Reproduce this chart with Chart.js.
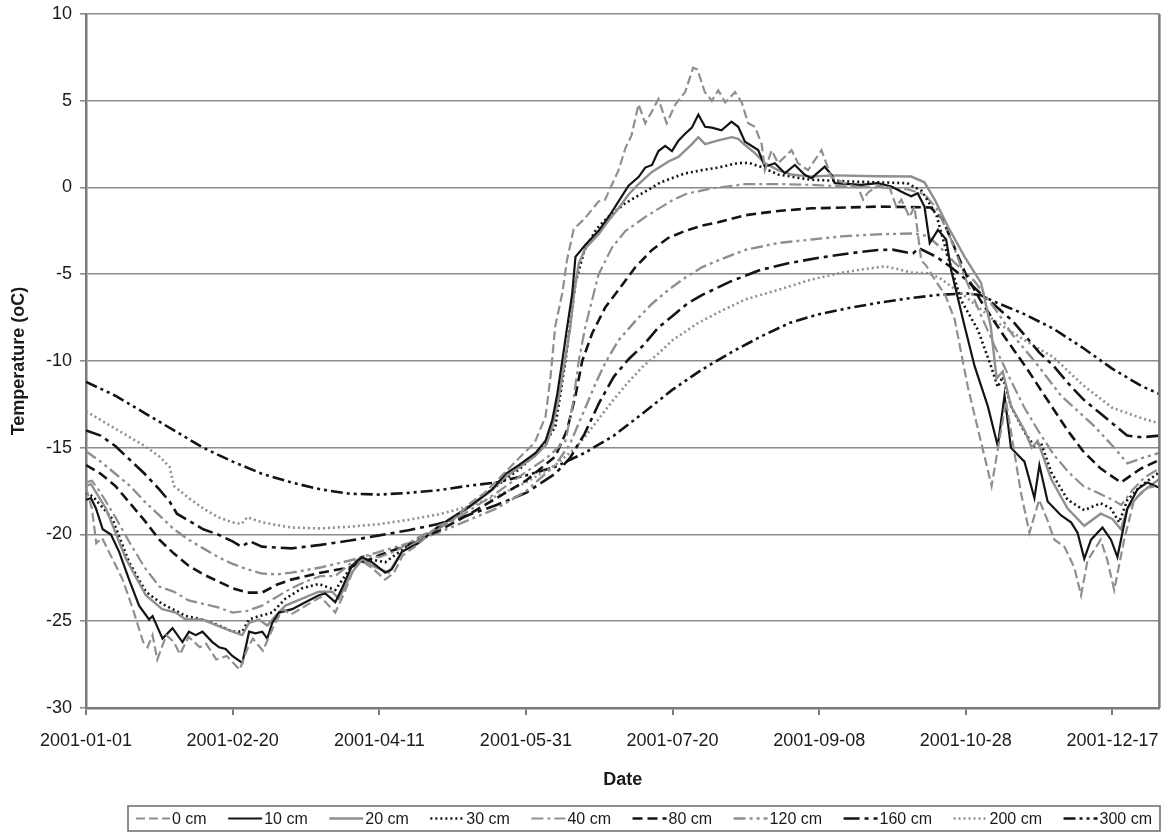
<!DOCTYPE html>
<html lang="en">
<head>
<meta charset="UTF-8">
<title>Soil temperature 2001</title>
<script src="https://cdn.jsdelivr.net/npm/chart.js"></script>
<style>
  body { margin: 0; background: #fff; }
  .wrap { width: 1174px; height: 833px; }
</style>
</head>
<body>
<div class="wrap"><canvas id="grafico"></canvas></div>
<script>
// x = day of year (0 = 2001-01-01), y = temperature (oC)
const tickDays = [0, 50, 100, 150, 200, 250, 300, 350];
const tickLabels = ['2001-01-01', '2001-02-20', '2001-04-11', '2001-05-31', '2001-07-20', '2001-09-08', '2001-10-28', '2001-12-17'];
const depths = ['0 cm', '10 cm', '20 cm', '30 cm', '40 cm', '80 cm', '120 cm', '160 cm', '200 cm', '300 cm'];

const t0 = [[0,-17.3],[2,-18.5],[3.5,-20.5],[5.5,-20.2],[9,-21.4],[12.5,-22.6],[16,-24.3],[19.5,-26.2],[21,-26.5],[22.7,-25.8],[24.3,-27.2],[27.4,-25.8],[30,-26.2],[32,-26.9],[35,-25.9],[38.8,-26.5],[41,-26.3],[44.4,-27.2],[48,-27.0],[52.4,-27.8],[55,-26.6],[56.9,-26.0],[60.3,-26.7],[63.7,-25.4],[67,-24.3],[70,-24.6],[75,-24.1],[80,-23.6],[85,-24.5],[88,-23.4],[91,-22.1],[94,-21.5],[98,-22.0],[102,-22.6],[105,-22.2],[108,-21.2],[113,-20.6],[120,-19.5],[125,-19.2],[131,-18.2],[136,-17.6],[143,-16.4],[150,-15.2],[153,-14.7],[156.7,-13.2],[158.4,-10.9],[160,-8.0],[162.4,-6.1],[164,-4.2],[166.3,-2.4],[170,-1.8],[174.8,-0.8],[177,-0.7],[181.6,1.0],[184,2.3],[186,3.0],[188.4,4.8],[190.7,3.7],[193,4.4],[195.2,5.1],[198,3.7],[201,4.8],[204.3,5.5],[207,6.9],[208.5,6.8],[211,5.5],[213.4,5.0],[215.6,5.6],[218,4.9],[221.3,5.5],[223.6,4.9],[225.8,3.7],[228.1,3.5],[230.4,2.5],[231.5,1.0],[233.8,2.15],[236,1.4],[240.6,2.15],[242.8,1.4],[246.2,1.0],[250.8,2.15],[254.2,0.6],[258.7,0.25],[263.2,0.0],[265,-0.7],[266.6,-0.3],[270,0.1],[274,0.0],[276.3,-1.1],[278,-0.7],[280.8,-1.7],[282.5,-1.1],[284.8,-4.2],[286.5,-4.5],[289.4,-5.3],[293,-6.2],[296.2,-7.6],[300.7,-11.5],[304.1,-13.9],[308.8,-17.2],[313.7,-12.3],[318.8,-17.6],[321.7,-19.9],[325,-18.0],[327.9,-19.2],[330.2,-20.3],[333.6,-20.7],[337,-21.9],[339.3,-23.5],[341.5,-21.5],[346,-20.3],[348.3,-21.5],[350.6,-23.2],[354,-20.3],[357.4,-18.0],[362,-17.3],[366,-17.2]];

const t10 = [[0,-18.0],[1.7,-17.9],[3.4,-18.5],[5.7,-19.7],[8.5,-20.0],[11.3,-21.0],[14.7,-22.6],[18.1,-24.1],[21.5,-24.9],[22.7,-24.7],[26.1,-26.0],[29.5,-25.4],[32.9,-26.2],[35.1,-25.6],[37.4,-25.8],[39.7,-25.6],[43.1,-26.2],[45.4,-26.5],[47.6,-26.6],[49.9,-27.0],[53.3,-27.4],[55.6,-25.6],[57.8,-25.7],[60.1,-25.6],[61.8,-26.0],[63.5,-25.1],[65.8,-24.5],[70.3,-24.3],[74.8,-23.9],[79.4,-23.5],[81.6,-23.4],[85,-23.9],[87.3,-23.1],[90.7,-21.8],[94.1,-21.3],[97.5,-21.6],[102,-22.2],[104.3,-22.0],[107.7,-21.0],[113.4,-20.5],[120.4,-19.5],[130.6,-18.4],[138.5,-17.4],[143.1,-16.5],[147.6,-16.0],[153.3,-15.3],[156.7,-14.6],[159,-13.4],[160.7,-11.9],[162.4,-10.0],[164.1,-8.0],[165.8,-6.1],[166.9,-4.0],[170.3,-3.3],[174.8,-2.5],[178.2,-1.7],[181.6,-0.8],[185,0.1],[188.4,0.6],[190.7,1.15],[193,1.3],[195.2,2.1],[197.5,2.4],[199.8,2.1],[202,2.7],[204.3,3.1],[206.6,3.45],[208.8,4.2],[211.1,3.5],[213.4,3.45],[216.7,3.3],[220.1,3.8],[222.4,3.5],[224.7,2.64],[229.2,2.16],[231.5,1.2],[234.9,1.4],[238.3,0.82],[241.7,1.3],[245.1,0.73],[247.4,0.54],[251.9,1.2],[254.2,0.73],[255.3,0.25],[264.4,0.15],[270,0.25],[274.6,0.06],[279.1,-0.33],[281.4,-0.5],[283.6,-0.33],[285.9,-1.1],[287.7,-3.2],[290.5,-2.44],[293.3,-3.0],[295,-4.75],[299.6,-8.0],[303,-10.3],[307.5,-12.6],[310.9,-14.9],[313.2,-12.0],[315.4,-15.0],[317.1,-15.3],[320,-15.8],[323.4,-17.9],[325.1,-16.0],[327.9,-18.1],[332.5,-18.9],[335.9,-19.3],[338.1,-19.9],[340.4,-21.4],[342.7,-20.3],[346.6,-19.6],[349.5,-20.3],[351.7,-21.3],[355.1,-18.5],[358.5,-17.4],[361.9,-17.0],[366,-17.3]];

const t20 = [[0,-17.2],[1.7,-17.1],[6.8,-18.5],[13.6,-21.4],[20.4,-23.5],[26,-24.3],[30.6,-24.5],[34,-24.9],[39.7,-24.9],[45.4,-25.3],[50,-25.6],[53.3,-25.8],[55.6,-25.1],[59,-24.9],[61.8,-25.25],[64.6,-24.7],[68,-24.1],[73.7,-23.7],[79.4,-23.3],[83.9,-23.3],[86.2,-23.7],[90.7,-22.2],[94.1,-21.4],[97.5,-21.8],[103.2,-22.2],[107.7,-21.0],[115.6,-20.1],[120,-19.6],[130,-18.5],[138,-17.5],[143,-16.7],[148,-16.1],[153,-15.5],[157,-14.8],[159,-13.8],[161,-12.3],[163,-10.3],[165,-8.2],[166.5,-6.0],[168,-4.4],[170.3,-3.5],[174.8,-2.7],[178.2,-1.9],[181.6,-1.2],[185,-0.4],[188.4,0.2],[193,0.9],[198.6,1.5],[202,1.76],[206.6,2.5],[208.8,2.9],[211.1,2.5],[215.6,2.72],[220.2,2.9],[222.4,2.8],[224.7,2.45],[228,2.0],[231.5,1.4],[236,1.0],[240.5,0.75],[247.4,0.63],[255.3,0.7],[270,0.65],[281.4,0.63],[285.9,0.3],[289.4,-0.7],[293.9,-2.25],[299.6,-4.0],[305.2,-5.5],[308.5,-8.0],[310.5,-11.0],[312.6,-10.6],[315.4,-12.6],[320,-14.0],[322.5,-15.0],[324.5,-14.6],[329.1,-16.8],[334.7,-18.5],[340.4,-19.5],[346,-18.8],[350,-19.1],[352.9,-19.7],[355.1,-18.5],[359.7,-17.6],[366,-16.8]];

const t30 = [[0,-17.6],[2.3,-17.8],[9,-19.1],[14.7,-21.6],[20.4,-23.3],[26,-24.0],[29.5,-24.3],[34,-24.7],[39.7,-24.9],[45.4,-25.25],[50,-25.6],[53.3,-25.6],[55.6,-24.9],[59,-24.7],[63.5,-24.5],[68,-23.7],[73.7,-23.1],[79.4,-22.85],[85,-23.2],[90.7,-21.8],[96,-21.4],[102,-21.6],[107.7,-20.9],[115.6,-20.1],[120,-19.6],[130,-18.5],[140,-17.2],[148,-16.2],[155,-15.1],[160,-13.8],[163.5,-10.0],[166.9,-5.5],[170,-3.6],[174,-2.4],[178,-1.7],[184,-0.9],[190,-0.3],[196,0.3],[204,0.8],[210,1.0],[215.6,1.15],[222,1.4],[226,1.42],[230,1.2],[236,0.75],[247,0.45],[260,0.35],[280,0.25],[285,-0.2],[290,-1.6],[293.9,-4.0],[298.4,-6.5],[304.1,-8.2],[308.6,-10.3],[310.9,-11.5],[312.6,-10.9],[315.4,-12.6],[320,-14.1],[323.4,-14.9],[325.6,-14.7],[329.1,-16.4],[334.7,-18.0],[340.4,-18.6],[343.8,-18.35],[346,-18.2],[349.5,-18.5],[352.3,-19.3],[355.1,-18.0],[359.7,-17.2],[366,-16.4]];

const t40 = [[0,-17.0],[2,-16.9],[5,-17.6],[10,-19.0],[15,-20.5],[20,-21.9],[25,-23.0],[30,-23.3],[35,-23.8],[40,-24.0],[45,-24.2],[50,-24.5],[55,-24.4],[60,-24.1],[65,-23.6],[70,-23.1],[75,-22.7],[80,-22.4],[85,-22.4],[90,-21.7],[95,-21.2],[100,-21.3],[105,-21.0],[110,-20.5],[115,-20.0],[120,-19.7],[130,-18.7],[140,-17.6],[150,-16.4],[157,-15.6],[163.5,-14.6],[166,-12.5],[168,-10.0],[170.3,-8.0],[174.8,-5.0],[179.4,-3.45],[184,-2.5],[190.7,-1.7],[199.8,-0.75],[205,-0.35],[213.4,-0.05],[224.7,0.19],[236,0.2],[247.4,0.15],[258.7,0.06],[270,0.0],[280,-0.1],[286,-0.4],[290,-1.2],[295,-3.0],[300,-5.3],[305,-7.3],[310,-9.2],[315,-11.0],[320,-12.7],[325,-14.1],[330,-15.4],[335,-16.4],[340,-17.2],[345,-17.6],[350,-18.0],[353,-18.3],[357,-17.4],[361,-16.7],[366,-16.2]];

const t80 = [[0,-16.0],[5,-16.5],[10,-17.2],[15,-18.2],[20,-19.2],[25,-20.3],[30,-21.1],[35,-21.8],[40,-22.3],[45,-22.7],[50,-23.1],[55,-23.35],[60,-23.35],[65,-22.9],[70,-22.6],[80,-22.2],[90,-21.9],[100,-21.2],[110,-20.6],[120,-19.8],[130,-18.9],[140,-17.9],[150,-16.9],[160,-15.5],[164,-14.0],[166.9,-12.0],[169.2,-10.0],[172.6,-8.4],[177.1,-6.9],[181.6,-5.9],[187.3,-4.6],[193,-3.6],[198.6,-2.9],[204.3,-2.5],[210,-2.2],[215.6,-2.0],[224.7,-1.6],[236,-1.35],[247.4,-1.2],[260,-1.15],[270,-1.1],[288,-1.15],[292,-1.8],[296,-3.4],[300,-5.0],[305,-6.5],[310,-7.8],[313.2,-8.6],[321.1,-10.5],[325.7,-11.7],[334.7,-14.0],[340,-15.2],[346,-16.2],[352.9,-17.0],[359.7,-16.2],[366,-15.7]];

const t120 = [[0,-15.2],[5,-15.8],[10,-16.5],[15,-17.2],[20,-18.1],[25,-18.9],[30,-19.7],[35,-20.3],[40,-20.8],[45,-21.3],[50,-21.7],[55,-22.0],[60,-22.25],[65,-22.3],[70,-22.2],[80,-21.9],[90,-21.5],[100,-21.0],[110,-20.5],[120,-19.9],[130,-19.2],[140,-18.5],[150,-17.5],[160,-16.0],[165,-14.8],[170,-12.8],[174,-11.2],[177.1,-10.1],[181.6,-8.8],[187.3,-7.7],[193,-6.7],[198.6,-5.9],[204.3,-5.2],[210,-4.6],[215.6,-4.2],[224.7,-3.6],[236,-3.2],[247.4,-3.0],[258.7,-2.8],[270,-2.7],[282,-2.65],[287,-2.8],[291,-3.4],[296,-4.3],[303,-5.4],[310,-7.0],[316,-8.5],[323.4,-10.0],[332.5,-12.0],[343.8,-13.75],[350.6,-15.0],[355.1,-15.9],[360,-15.6],[366,-15.3]];

const t160 = [[0,-14.0],[5,-14.3],[10,-14.9],[15,-15.7],[20,-16.5],[25,-17.4],[28.5,-18.1],[31,-18.8],[35,-19.2],[40,-19.7],[45,-20.0],[50,-20.4],[53,-20.7],[56,-20.4],[60,-20.7],[70,-20.8],[80,-20.6],[90,-20.35],[100,-20.05],[110,-19.75],[120,-19.4],[130,-18.9],[140,-18.3],[150,-17.6],[160,-16.5],[165,-15.6],[170,-14.2],[175,-12.4],[180,-10.9],[185,-9.9],[190,-9.1],[195,-8.1],[200,-7.4],[205,-6.7],[210,-6.2],[215,-5.8],[220,-5.4],[230,-4.75],[240,-4.35],[250,-4.05],[260,-3.8],[270,-3.6],[275,-3.58],[280,-3.75],[282,-3.8],[284,-3.5],[290,-4.0],[295,-4.6],[300,-5.3],[305,-6.1],[310,-6.8],[316,-7.7],[320,-8.5],[325,-9.5],[330,-10.3],[335,-11.3],[340,-12.2],[345,-12.9],[350,-13.6],[355,-14.3],[360,-14.4],[366,-14.3]];

const t200 = [[0,-12.9],[5,-13.4],[10,-13.9],[15,-14.4],[20,-14.9],[25,-15.5],[28.5,-16.1],[30,-17.2],[35,-17.9],[40,-18.5],[45,-19.0],[50,-19.3],[53,-19.4],[55,-19.0],[60,-19.3],[70,-19.6],[80,-19.65],[90,-19.55],[100,-19.4],[110,-19.15],[120,-18.85],[130,-18.4],[140,-17.8],[150,-17.0],[160,-16.0],[167,-15.0],[170,-14.4],[175,-13.3],[180,-12.2],[185,-11.2],[190,-10.3],[195,-9.6],[200,-8.8],[208.8,-7.8],[215.6,-7.2],[224.7,-6.46],[236,-5.9],[247.4,-5.3],[258,-4.9],[264.4,-4.73],[272.3,-4.54],[276.8,-4.7],[281.4,-4.9],[287,-4.94],[291,-5.2],[295,-5.7],[300,-6.3],[305,-7.0],[310,-7.7],[320,-8.8],[330,-9.8],[340,-11.4],[350,-12.7],[360,-13.3],[366,-13.6]];

const t300 = [[0,-11.2],[10,-12.0],[20,-13.0],[30,-14.0],[40,-15.0],[50,-15.8],[60,-16.5],[70,-17.0],[80,-17.4],[90,-17.65],[100,-17.7],[110,-17.6],[120,-17.45],[130,-17.2],[140,-17.0],[150,-16.6],[160,-16.1],[170,-15.3],[180,-14.3],[190,-13.0],[200,-11.65],[210,-10.5],[220,-9.5],[230,-8.6],[240,-7.8],[250,-7.3],[260,-6.95],[270,-6.65],[280,-6.4],[290,-6.2],[300,-6.1],[305,-6.2],[310,-6.6],[320,-7.3],[330,-8.15],[340,-9.25],[350,-10.45],[360,-11.45],[366,-11.9]];

const seriesData = [t0, t10, t20, t30, t40, t80, t120, t160, t200, t300];

const GREY = '#8f8f8f';
const BLACK = '#141414';
const styles = [
  { color: GREY,  dash: [9, 4],               width: 2.2 },
  { color: BLACK, dash: [],                   width: 2.2 },
  { color: GREY,  dash: [],                   width: 2.4 },
  { color: BLACK, dash: [2, 3],               width: 2.6 },
  { color: GREY,  dash: [12, 4, 3, 4],        width: 2.2 },
  { color: BLACK, dash: [10, 5],              width: 2.6 },
  { color: GREY,  dash: [12, 4, 3, 4, 3, 4],  width: 2.4 },
  { color: BLACK, dash: [16, 5, 4, 5],        width: 2.6 },
  { color: GREY,  dash: [2, 3],               width: 2.6 },
  { color: BLACK, dash: [12, 4, 3, 4, 3, 4],  width: 2.6 }
];

Chart.defaults.font.family = "'Liberation Sans', Arial, sans-serif";
Chart.defaults.color = '#1a1a1a';

// right edge of the plot frame + legend box drawn from the dataset styles
const frameAndLegend = {
  id: 'frameAndLegend',
  afterDraw(chart) {
    const c = chart.ctx;
    const a = chart.chartArea;
    c.save();
    c.strokeStyle = '#7a7a7a';
    c.lineWidth = 2.5;
    c.beginPath();
    c.moveTo(a.right, a.top);
    c.lineTo(a.right, a.bottom);
    c.stroke();

    const box = { left: 128, top: 806, right: 1160, bottom: 831 };
    c.lineWidth = 1.5;
    c.strokeStyle = '#6a6a6a';
    c.strokeRect(box.left, box.top, box.right - box.left, box.bottom - box.top);

    c.font = "16px 'Liberation Sans', Arial, sans-serif";
    c.textBaseline = 'middle';
    c.fillStyle = '#1a1a1a';
    const sample = 34, inner = 2, pad = 8;
    const ds = chart.data.datasets;
    const widths = ds.map(d => c.measureText(d.label).width);
    const used = widths.reduce((s, w) => s + w + sample + inner, 0);
    const gap = (box.right - box.left - 2 * pad - used) / (ds.length - 1);
    const y = (box.top + box.bottom) / 2;
    let x = box.left + pad;
    ds.forEach((d, i) => {
      c.strokeStyle = d.borderColor;
      c.lineWidth = d.borderWidth;
      c.setLineDash(d.borderDash);
      c.beginPath();
      c.moveTo(x, y);
      c.lineTo(x + sample, y);
      c.stroke();
      c.setLineDash([]);
      x += sample + inner;
      c.fillText(d.label, x, y + 1);
      x += widths[i] + gap;
    });
    c.restore();
  }
};

const ctx = document.getElementById('grafico');

new Chart(ctx, {
  type: 'line',
  data: {
    datasets: depths.map((lab, i) => ({
      label: lab,
      data: seriesData[i].map(p => ({ x: p[0], y: p[1] })),
      borderColor: styles[i].color,
      borderDash: styles[i].dash,
      borderWidth: styles[i].width,
      pointRadius: 0,
      tension: 0,
      fill: false
    }))
  },
  options: {
    responsive: true,
    maintainAspectRatio: false,
    animation: false,
    layout: { padding: { left: 4, right: 12, top: 14, bottom: 38 } },
    plugins: {
      legend: { display: false },
      tooltip: { enabled: false }
    },
    scales: {
      x: {
        type: 'linear',
        min: 0,
        max: 366,
        afterBuildTicks: s => { s.ticks = tickDays.map(v => ({ value: v })); },
        afterFit: s => { s.height = 87; },
        ticks: {
          autoSkip: false,
          maxRotation: 0,
          padding: 15,
          font: { size: 18 },
          callback: v => tickLabels[tickDays.indexOf(v)]
        },
        grid: { drawOnChartArea: false, drawTicks: true, tickLength: 7, color: '#7a7a7a', lineWidth: 2 },
        border: { color: '#7a7a7a', width: 2.5 },
        title: { display: true, text: 'Date', font: { size: 18, weight: 'bold' }, padding: { top: 4, bottom: 4 } }
      },
      y: {
        min: -30,
        max: 10,
        afterFit: s => { s.width = 82; s.paddingTop = 0; s.paddingBottom = 0; },
        ticks: { stepSize: 5, padding: 8, font: { size: 18 } },
        grid: { color: '#8c8c8c', lineWidth: 1.6, tickLength: 6 },
        border: { color: '#7a7a7a', width: 2.5 },
        title: { display: true, text: 'Temperature (oC)', font: { size: 18, weight: 'bold' }, padding: { top: 4, bottom: 4 } }
      }
    }
  },
  plugins: [frameAndLegend]
});
</script>
</body>
</html>
